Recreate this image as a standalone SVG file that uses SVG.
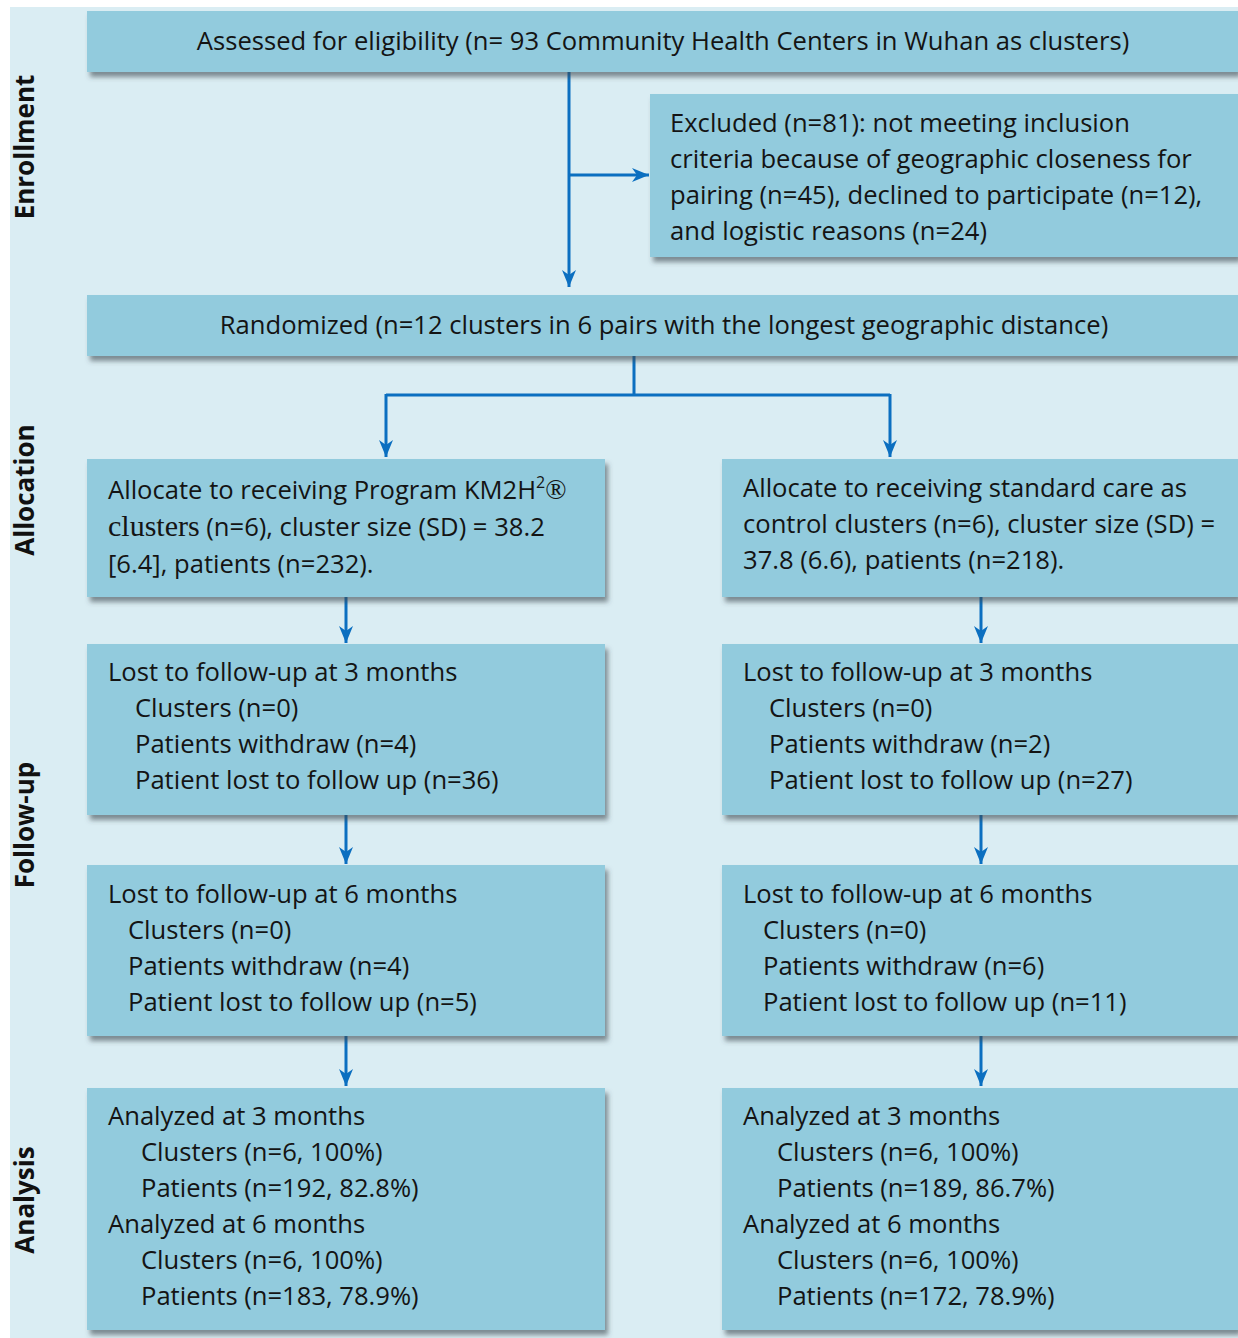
<svg xmlns="http://www.w3.org/2000/svg" width="1238" height="1338" viewBox="0 0 1238 1338">
<defs>
<style>
.bg{fill:#daedf3}
.box{fill:#92cbdd;filter:url(#sh)}
.t{font-family:"Open Sans","Noto Sans","Liberation Sans",sans-serif;font-size:25.6px;fill:#141414}
.side{font-family:"Open Sans","Liberation Sans",sans-serif;font-size:26px;font-weight:bold;fill:#111;text-anchor:middle}
.serif{font-family:"Liberation Serif",serif}
.c{stroke:#0b6fc0;stroke-width:3;fill:none}
</style>
<filter id="sh" x="-5%" y="-10%" width="115%" height="130%">
<feDropShadow dx="3" dy="5" stdDeviation="2.5" flood-color="#3a4a50" flood-opacity="0.6"/>
</filter>
<marker id="ah" markerUnits="userSpaceOnUse" markerWidth="18" markerHeight="16" refX="17" refY="8" orient="auto">
<path d="M0,1 L17,8 L0,15 L5,8 Z" fill="#0b6fc0"/>
</marker>
</defs>
<rect class="bg" x="10" y="7" width="1228" height="1331"/>

<g id="side-labels">
<text class="side" transform="translate(34,147) rotate(-90)">Enrollment</text>
<text class="side" transform="translate(34,490) rotate(-90)">Allocation</text>
<text class="side" transform="translate(34,825) rotate(-90)">Follow-up</text>
<text class="side" transform="translate(34,1200) rotate(-90)">Analysis</text>
</g>

<g id="connectors">
<path class="c" d="M569,72 V287" marker-end="url(#ah)"/>
<path class="c" d="M569,175 H649" marker-end="url(#ah)"/>
<path class="c" d="M634,356 V395 M386,395 H890"/>
<path class="c" d="M386,394 V457" marker-end="url(#ah)"/>
<path class="c" d="M890,394 V457" marker-end="url(#ah)"/>
<path class="c" d="M346,597 V643" marker-end="url(#ah)"/>
<path class="c" d="M346,815 V864" marker-end="url(#ah)"/>
<path class="c" d="M346,1036 V1086" marker-end="url(#ah)"/>
<path class="c" d="M981,597 V643" marker-end="url(#ah)"/>
<path class="c" d="M981,815 V864" marker-end="url(#ah)"/>
<path class="c" d="M981,1036 V1086" marker-end="url(#ah)"/>
</g>

<g id="assessed">
<rect class="box" x="87" y="11" width="1151" height="61"/>
<text class="t" x="663" y="50" text-anchor="middle">Assessed for eligibility (n= 93 Community Health Centers in Wuhan as clusters)</text>
</g>

<g id="excluded">
<rect class="box" x="650" y="94" width="588" height="163"/>
<text class="t" x="670" y="132">Excluded (n=81): not meeting inclusion</text>
<text class="t" x="670" y="168">criteria because of geographic closeness for</text>
<text class="t" x="670" y="204">pairing (n=45), declined to participate (n=12),</text>
<text class="t" x="670" y="240">and logistic reasons (n=24)</text>
</g>

<g id="randomized">
<rect class="box" x="87" y="295" width="1151" height="61"/>
<text class="t" x="664" y="334" text-anchor="middle">Randomized (n=12 clusters in 6 pairs with the longest geographic distance)</text>
</g>

<g id="alloc-left">
<rect class="box" x="87" y="459" width="518" height="138"/>
<text class="t" x="108" y="499">Allocate to receiving Program KM2H<tspan font-size="16" dy="-11">2</tspan><tspan class="serif" dy="11" font-size="28">®</tspan></text>
<text class="t" x="108" y="536"><tspan class="serif" font-size="30">clusters</tspan> (n=6), cluster size (SD) = 38.2</text>
<text class="t" x="108" y="573">[6.4], patients (n=232).</text>
</g>

<g id="alloc-right">
<rect class="box" x="722" y="459" width="516" height="138"/>
<text class="t" x="743" y="497">Allocate to receiving standard care as</text>
<text class="t" x="743" y="533">control clusters (n=6), cluster size (SD) =</text>
<text class="t" x="743" y="569">37.8 (6.6), patients (n=218).</text>
</g>

<g id="fu3-left">
<rect class="box" x="87" y="644" width="518" height="171"/>
<text class="t" x="108" y="681">Lost to follow-up at 3 months</text>
<text class="t" x="135" y="717">Clusters (n=0)</text>
<text class="t" x="135" y="753">Patients withdraw (n=4)</text>
<text class="t" x="135" y="789">Patient lost to follow up (n=36)</text>
</g>

<g id="fu3-right">
<rect class="box" x="722" y="644" width="516" height="171"/>
<text class="t" x="743" y="681">Lost to follow-up at 3 months</text>
<text class="t" x="769" y="717">Clusters (n=0)</text>
<text class="t" x="769" y="753">Patients withdraw (n=2)</text>
<text class="t" x="769" y="789">Patient lost to follow up (n=27)</text>
</g>

<g id="fu6-left">
<rect class="box" x="87" y="865" width="518" height="171"/>
<text class="t" x="108" y="903">Lost to follow-up at 6 months</text>
<text class="t" x="128" y="939">Clusters (n=0)</text>
<text class="t" x="128" y="975">Patients withdraw (n=4)</text>
<text class="t" x="128" y="1011">Patient lost to follow up (n=5)</text>
</g>

<g id="fu6-right">
<rect class="box" x="722" y="865" width="516" height="171"/>
<text class="t" x="743" y="903">Lost to follow-up at 6 months</text>
<text class="t" x="763" y="939">Clusters (n=0)</text>
<text class="t" x="763" y="975">Patients withdraw (n=6)</text>
<text class="t" x="763" y="1011">Patient lost to follow up (n=11)</text>
</g>

<g id="analysis-left">
<rect class="box" x="87" y="1088" width="518" height="242"/>
<text class="t" x="108" y="1125">Analyzed at 3 months</text>
<text class="t" x="141" y="1161">Clusters (n=6, 100%)</text>
<text class="t" x="141" y="1197">Patients (n=192, 82.8%)</text>
<text class="t" x="108" y="1233">Analyzed at 6 months</text>
<text class="t" x="141" y="1269">Clusters (n=6, 100%)</text>
<text class="t" x="141" y="1305">Patients (n=183, 78.9%)</text>
</g>

<g id="analysis-right">
<rect class="box" x="722" y="1088" width="516" height="242"/>
<text class="t" x="743" y="1125">Analyzed at 3 months</text>
<text class="t" x="777" y="1161">Clusters (n=6, 100%)</text>
<text class="t" x="777" y="1197">Patients (n=189, 86.7%)</text>
<text class="t" x="743" y="1233">Analyzed at 6 months</text>
<text class="t" x="777" y="1269">Clusters (n=6, 100%)</text>
<text class="t" x="777" y="1305">Patients (n=172, 78.9%)</text>
</g>
</svg>
